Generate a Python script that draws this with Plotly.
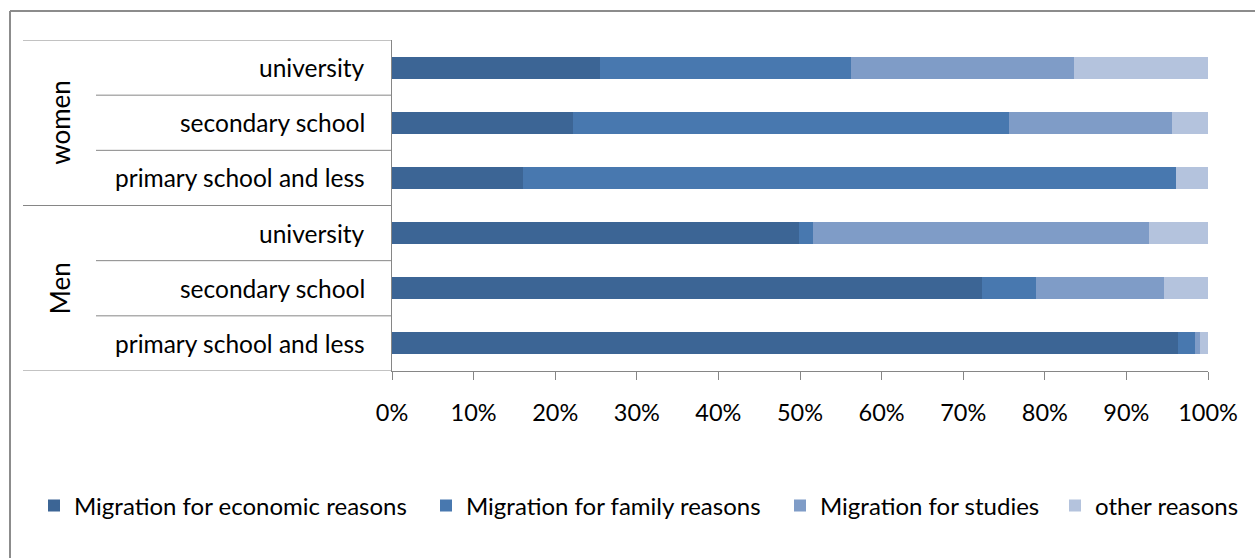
import plotly.graph_objects as go

# rows bottom -> top
categories = [
    "Men|primary school and less",
    "Men|secondary school",
    "Men|university",
    "women|primary school and less",
    "women|secondary school",
    "women|university",
]
row_labels = ["primary school and less", "secondary school", "university",
              "primary school and less", "secondary school", "university"]
groups = ["Men", "women"]

economic = [96.3, 72.3, 49.9, 16.0, 22.2, 25.5]
family = [2.1, 6.6, 1.7, 80.1, 53.4, 30.7]
studies = [0.6, 15.7, 41.2, 0.0, 20.0, 27.4]
other = [1.0, 5.4, 7.2, 3.9, 4.4, 16.4]

series_names = ["Migration for economic reasons", "Migration for family reasons",
                "Migration for studies", "other reasons"]
colors = ["#3C6595", "#4878AF", "#7F9CC7", "#B4C3DD"]
tick_vals = [0, 10, 20, 30, 40, 50, 60, 70, 80, 90, 100]
tick_text = ["0%", "10%", "20%", "30%", "40%", "50%", "60%", "70%", "80%", "90%", "100%"]

FONT = "Lato"
W, H = 1255, 558
ML, MR, MT, MB = 392, 47, 40, 187
PW = W - ML - MR
PH = H - MT - MB


def px_x(p):
    return (p - ML) / PW


def px_y(p):
    return (H - MB - p) / PH


fig = go.Figure()
legend_px = [34, 426, 780, 1055]
for i, (name, vals) in enumerate(zip(series_names, [economic, family, studies, other])):
    lg = "legend" if i == 0 else f"legend{i+1}"
    fig.add_trace(go.Bar(
        y=categories, x=vals, name=name, orientation="h",
        marker=dict(color=colors[i], line=dict(width=0)),
        legend=lg,
    ))

layout_legends = {}
for i, xp in enumerate(legend_px):
    key = "legend" if i == 0 else f"legend{i+1}"
    layout_legends[key] = dict(
        x=px_x(xp), xanchor="left", y=px_y(506), yanchor="middle",
        orientation="h", font=dict(family=FONT, size=24, color="#000000"),
        bgcolor="rgba(0,0,0,0)", borderwidth=0,
    )

line_col = "#868686"
shapes = []
# row separators inside groups
for yb in [0.5, 1.5, 3.5, 4.5]:
    shapes.append(dict(type="line", xref="paper", yref="y", x0=px_x(96), x1=0,
                       y0=yb, y1=yb, line=dict(color=line_col, width=1)))
# group separators
for yb in [-0.5, 2.5, 5.5]:
    shapes.append(dict(type="line", xref="paper", yref="y", x0=px_x(23), x1=0,
                       y0=yb, y1=yb, line=dict(color=line_col, width=1)))
# outer frame (top and left)
shapes.append(dict(type="line", xref="paper", yref="paper", x0=px_x(10), x1=px_x(1260),
                   y0=px_y(11), y1=px_y(11), line=dict(color="#8C8C8C", width=2)))
shapes.append(dict(type="line", xref="paper", yref="paper", x0=px_x(10), x1=px_x(10),
                   y0=px_y(11), y1=px_y(565), line=dict(color="#8C8C8C", width=2)))

annotations = []
for cat, lab in zip(categories, row_labels):
    annotations.append(dict(xref="paper", yref="y", x=px_x(367), y=cat, text=lab,
                            showarrow=False, xanchor="right", yanchor="middle",
                            font=dict(family=FONT, size=24.5, color="#000000")))
for g, yc in zip(groups, [1, 4]):
    annotations.append(dict(xref="paper", yref="y", x=px_x(60), y=yc, text=g,
                            showarrow=False, textangle=-90, xanchor="center", yanchor="middle",
                            font=dict(family=FONT, size=26, color="#000000")))

fig.update_layout(
    width=W, height=H,
    margin=dict(l=ML, r=MR, t=MT, b=MB, autoexpand=False),
    barmode="stack", bargap=0.6,
    plot_bgcolor="white", paper_bgcolor="white",
    font=dict(family=FONT, size=23, color="#000000"),
    xaxis=dict(range=[0, 100], tickvals=tick_vals, ticktext=tick_text, showgrid=False,
               zeroline=False, showline=True, linecolor=line_col, linewidth=1,
               ticks="outside", ticklen=8, tickcolor=line_col, tickwidth=1,
               ticklabelstandoff=13, tickfont=dict(family=FONT, size=23.5, color="#000000")),
    yaxis=dict(categoryorder="array", categoryarray=categories, range=[-0.5, 5.5],
               showticklabels=False, showgrid=False, zeroline=False,
               showline=True, linecolor=line_col, linewidth=1, ticks=""),
    shapes=shapes, annotations=annotations,
    showlegend=True,
    **layout_legends,
)

fig.write_html("out.html")
